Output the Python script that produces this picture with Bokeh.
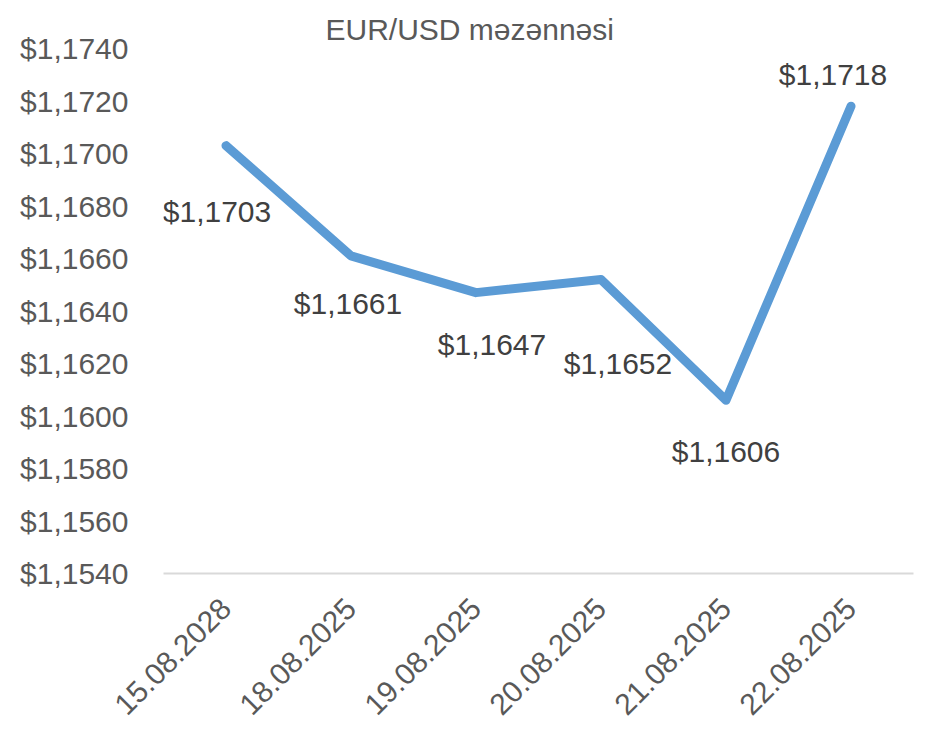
from bokeh.plotting import figure
from bokeh.models import ColumnDataSource, Range1d, FixedTicker, CustomJSTickFormatter
from bokeh.embed import file_html
from bokeh.resources import INLINE
from bokeh.core.properties import value
import math

dates = ["15.08.2028", "18.08.2025", "19.08.2025", "20.08.2025", "21.08.2025", "22.08.2025"]
rates = [1.1703, 1.1661, 1.1647, 1.1652, 1.1606, 1.1718]
labels = ["$1,1703", "$1,1661", "$1,1647", "$1,1652", "$1,1606", "$1,1718"]
y_ticks = [1.1540, 1.1560, 1.1580, 1.1600, 1.1620, 1.1640, 1.1660, 1.1680, 1.1700, 1.1720, 1.1740]
title_text = "EUR/USD məzənnəsi"

# label offsets (pixels) – style only
lx = [-9, -3, 16, 17, 0, -18]
ly = [66, 48, 52, 84, 51, -32]

FONT = "Liberation Sans"

src = ColumnDataSource(dict(x=dates, y=rates, t=labels, dx=lx, dy=ly))

p = figure(x_range=dates, y_range=Range1d(1.1540, 1.1740), width=918, height=728,
           output_backend="svg", toolbar_location=None,
           min_border_left=163, min_border_right=5, min_border_top=48, min_border_bottom=155)
p.outline_line_color = None
p.xgrid.grid_line_color = None
p.ygrid.grid_line_color = None
p.background_fill_color = "white"

p.title.text = title_text
p.title.align = "left"
p.title.offset = 162
p.title.standoff = 5
p.title.text_font = FONT
p.title.text_font_size = "30px"
p.title.text_font_style = "normal"
p.title.text_color = "#595959"

p.line("x", "y", source=src, line_color="#5B9BD5", line_width=9, line_cap="round", line_join="round")
p.text("x", "y", text="t", source=src, x_offset="dx", y_offset="dy",
       text_align="center", text_baseline="middle", text_font=value(FONT),
       text_font_size="30px", text_color="#404040")

p.yaxis.ticker = FixedTicker(ticks=y_ticks)
p.yaxis.formatter = CustomJSTickFormatter(code="return '$' + tick.toFixed(4).replace('.', ',');")
p.yaxis.axis_line_color = None
p.yaxis.major_tick_line_color = None
p.yaxis.minor_tick_line_color = None
p.yaxis.major_label_text_font = FONT
p.yaxis.major_label_text_font_size = "30px"
p.yaxis.major_label_text_color = "#595959"
p.yaxis.major_label_standoff = 29

p.xaxis.axis_line_color = "#D9D9D9"
p.xaxis.axis_line_width = 2
p.xaxis.major_tick_line_color = None
p.xaxis.minor_tick_line_color = None
p.xaxis.major_label_orientation = math.pi / 4
p.xaxis.major_label_text_font = FONT
p.xaxis.major_label_text_font_size = "30px"
p.xaxis.major_label_text_color = "#595959"
p.xaxis.major_label_standoff = 24

open("out.html", "w").write(file_html(p, INLINE))
